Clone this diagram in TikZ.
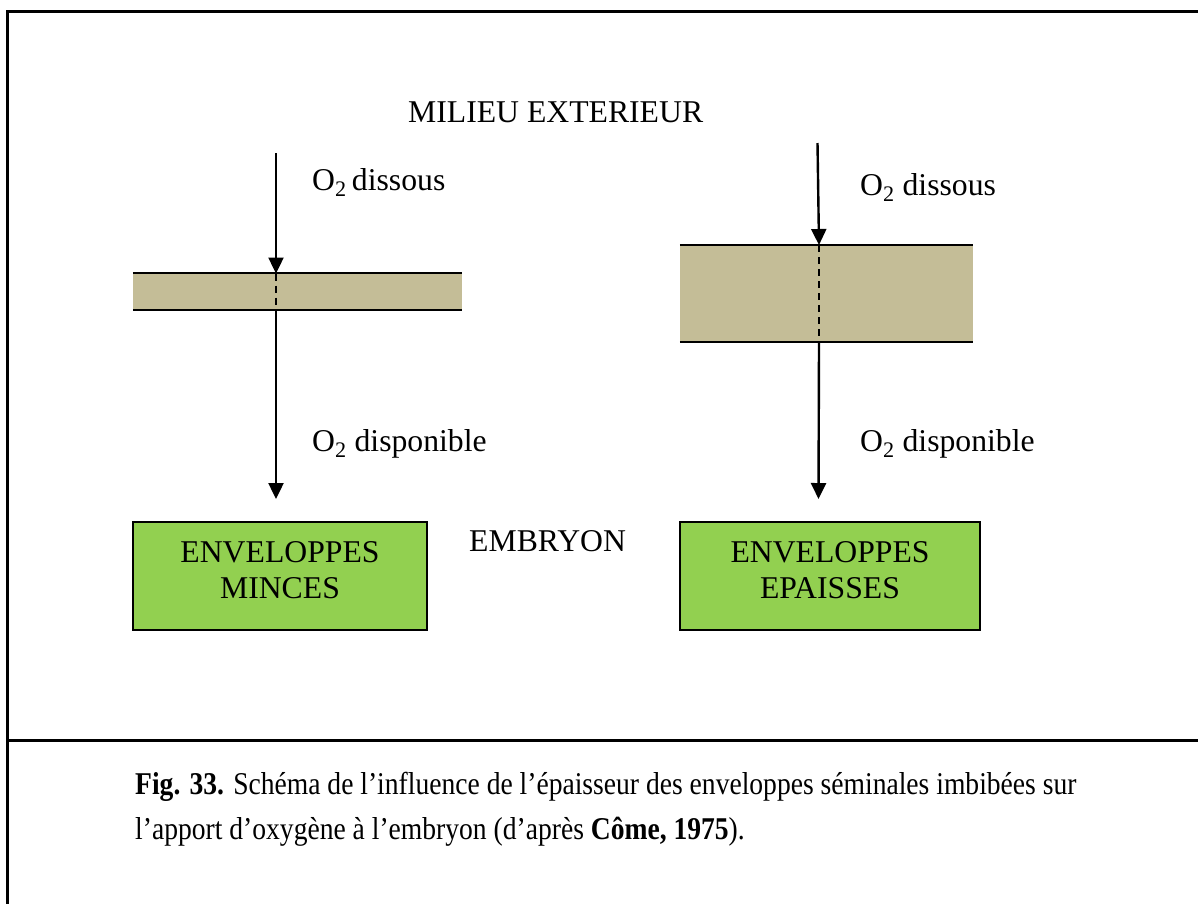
\documentclass[tikz,border=0pt]{standalone}
\usepackage{fontspec}
\setmainfont{Liberation Serif}
\newfontfamily\capfont[FakeStretch=0.87]{Liberation Serif}
\usetikzlibrary{arrows.meta}
\definecolor{tanband}{HTML}{C4BD97}
\definecolor{boxgreen}{HTML}{92D050}
\begin{document}
\begin{tikzpicture}[x=1pt,y=-1pt,
  txt/.style={inner sep=0pt,anchor=base west,font=\fontsize{31.7}{36}\selectfont},
  captxt/.style={inner sep=0pt,anchor=base west,font=\capfont\fontsize{31.7}{36}\selectfont},
  band/.style={fill=tanband,draw=none,inner sep=0pt,minimum width=#1},
  bandline/.style={line width=2.2pt},
  frameline/.style={line width=3pt},
  arr/.style={line width=2.4pt,-{Triangle[width=15pt,length=16pt]}},
  dsh/.style={line width=2.4pt,dash pattern=on 7pt off 5pt},
  gbox/.style={draw=black,line width=1.8pt,fill=boxgreen,minimum width=#1,minimum height=108pt,
    align=center,inner sep=0pt,text depth=12pt,font=\fontsize{31.7}{36}\selectfont}]
\useasboundingbox (0,0) rectangle (1198,903);
% frame
\coordinate (ftl) at (7,11);
\coordinate (ftr) at (1210,11);
\coordinate (fbl) at (7,915);
\coordinate (fdl) at (7,740);
\coordinate (fdr) at (1210,740);
\draw[frameline] (fbl) -- (ftl) -- (ftr);
\draw[frameline] (fdl) -- (fdr);
% title
\node[txt] (milieu) at (408,122.5) {MILIEU EXTERIEUR};
% left band
\node[band=329pt,minimum height=36pt] (b1) at (297.5,291.5) {};
\draw[bandline] (b1.north west) -- (b1.north east);
\draw[bandline] (b1.south west) -- (b1.south east);
% right band
\node[band=293pt,minimum height=97pt] (b2) at (826.5,293.5) {};
\draw[bandline] (b2.north west) -- (b2.north east);
\draw[bandline] (b2.south west) -- (b2.south east);
% left arrows
\coordinate (a1s) at (276,153);
\coordinate (a1t) at (276,273.5);
\coordinate (a1b) at (276,309.5);
\coordinate (a1e) at (276,499);
\draw[arr] (a1s) -- (a1t);
\draw[dsh] (a1t) -- (a1b);
\draw[arr] (a1b) -- (a1e);
% right arrows
\coordinate (a2s) at (817.5,143);
\coordinate (a2t) at (819,245);
\coordinate (a2b) at (819,342);
\coordinate (a2e) at (818.5,499);
\draw[arr] (a2s) -- (a2t);
\draw[dsh] (a2t) -- (a2b);
\draw[arr] (a2b) -- (a2e);
% labels
\node[txt] (d1) at (312,190.5) {O\textsubscript{2}\,dissous};
\node[txt] (d2) at (860,195) {O\textsubscript{2} dissous};
\node[txt] (p1) at (312,451) {O\textsubscript{2} disponible};
\node[txt] (p2) at (860,451) {O\textsubscript{2} disponible};
\node[txt] (emb) at (469,551) {EMBRYON};
% boxes
\node[gbox=294pt] (g1) at (280,576) {ENVELOPPES\\MINCES};
\node[gbox=300pt] (g2) at (830,576) {ENVELOPPES\\EPAISSES};
% caption
\node[captxt] (cap1) at (135,794) {\textbf{Fig. 33.} Schéma de l’influence de l’épaisseur des enveloppes séminales imbibées sur};
\node[captxt] (cap2) at (135,839) {l’apport d’oxygène à l’embryon (d’après \textbf{Côme, 1975}).};
\end{tikzpicture}
\end{document}
